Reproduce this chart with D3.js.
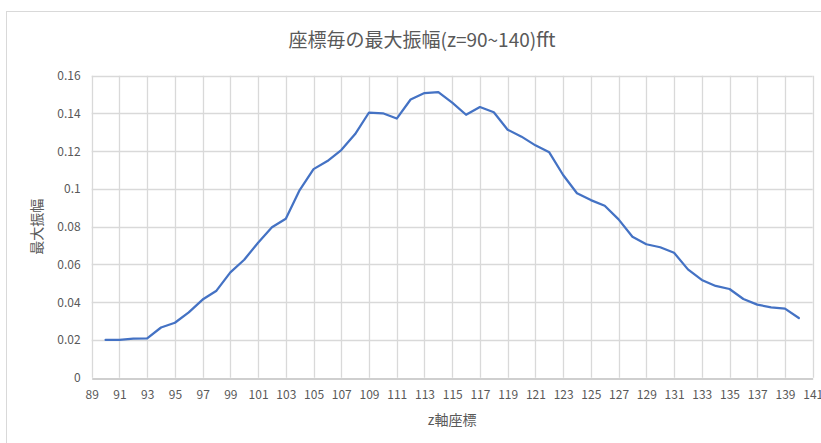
<!DOCTYPE html>
<html>
<head>
<meta charset="utf-8">
<script src="https://cdn.jsdelivr.net/npm/d3@7"></script>
<style>
  html, body { margin: 0; padding: 0; background: #fff; }
  svg { display: block; font-family: "Noto Sans CJK JP", "Noto Sans", sans-serif; }
</style>
</head>
<body>
<svg id="chart" width="821" height="443"></svg>
<script>
// z coordinate and maximum FFT amplitude per coordinate
const zValues = d3.range(90, 141);
const maxAmplitude = [
  0.0200, 0.0200, 0.0207, 0.0208, 0.0266, 0.0291, 0.0346, 0.0414, 0.0461, 0.0558,
  0.0625, 0.0715, 0.0797, 0.0842, 0.0994, 0.1105, 0.1148, 0.1206, 0.1291, 0.1405,
  0.1401, 0.1373, 0.1474, 0.1508, 0.1513, 0.1457, 0.1393, 0.1434, 0.1406, 0.1314,
  0.1277, 0.1231, 0.1194, 0.1074, 0.0977, 0.0941, 0.0911, 0.0839, 0.0747, 0.0707,
  0.0691, 0.0662, 0.0574, 0.0518, 0.0486, 0.0470, 0.0417, 0.0387, 0.0373, 0.0366,
  0.0316
];
const xTicks = d3.range(89, 142, 2);
const yTicks = [0, 0.02, 0.04, 0.06, 0.08, 0.1, 0.12, 0.14, 0.16];

const titleText = "座標毎の最大振幅(z=90~140)fft";
const xTitle = "z軸座標";
const yTitle = "最大振幅";

const svg = d3.select("#chart");
const margin = { left: 91.7, right: 812.7, top: 75.7, bottom: 377.7 };

const x = d3.scaleLinear().domain([89, 141]).range([margin.left, margin.right]);
const y = d3.scaleLinear().domain([0, 0.16]).range([margin.bottom, margin.top]);

const textColor = "#595959";

// chart area frame
svg.append("rect")
  .attr("x", 6.5).attr("y", 11.5)
  .attr("width", 840).attr("height", 460)
  .attr("fill", "none").attr("stroke", "#d9d9d9").attr("stroke-width", 1);

// title
svg.append("text")
  .attr("x", 422).attr("y", 47)
  .attr("text-anchor", "middle")
  .attr("font-size", 19)
  .attr("fill", textColor)
  .text(titleText);

// horizontal gridlines
svg.append("g")
  .selectAll("line")
  .data(yTicks.filter(d => d > 0))
  .join("line")
  .attr("x1", margin.left).attr("x2", margin.right)
  .attr("y1", d => Math.round(y(d)) + 0.5).attr("y2", d => Math.round(y(d)) + 0.5)
  .attr("stroke", "#d9d9d9").attr("stroke-width", 1.3);

// vertical gridlines
svg.append("g")
  .selectAll("line")
  .data(xTicks)
  .join("line")
  .attr("x1", d => Math.round(x(d)) + 0.5).attr("x2", d => Math.round(x(d)) + 0.5)
  .attr("y1", margin.top).attr("y2", margin.bottom)
  .attr("stroke", "#d9d9d9").attr("stroke-width", 1.3);

// x axis
const xAxis = svg.append("g")
  .attr("transform", `translate(0,${Math.round(y(0)) + 0.5})`)
  .call(d3.axisBottom(x).tickValues(xTicks).tickFormat(d3.format("d")).tickSize(0).tickPadding(12));
xAxis.select(".domain").attr("stroke", "#bfbfbf").attr("stroke-width", 1.3);
xAxis.selectAll("text").attr("fill", textColor).attr("font-size", 12)
  .attr("font-family", "'Noto Sans CJK JP', sans-serif");

// y axis labels
const yAxis = svg.append("g")
  .attr("transform", `translate(${margin.left},0)`)
  .call(d3.axisLeft(y).tickValues(yTicks).tickFormat(d => String(+d.toFixed(2))).tickSize(0).tickPadding(11));
yAxis.select(".domain").remove();
yAxis.selectAll("text").attr("fill", textColor).attr("font-size", 12)
  .attr("font-family", "'Noto Sans CJK JP', sans-serif");

// axis titles
svg.append("text")
  .attr("x", (margin.left + margin.right) / 2).attr("y", 425)
  .attr("text-anchor", "middle")
  .attr("font-size", 14)
  .attr("fill", textColor)
  .text(xTitle);

svg.append("text")
  .attr("transform", `translate(42,${(margin.top + margin.bottom) / 2}) rotate(-90)`)
  .attr("text-anchor", "middle")
  .attr("font-size", 14)
  .attr("fill", textColor)
  .text(yTitle);

// data line
const line = d3.line()
  .x((d, i) => x(zValues[i]))
  .y(d => y(d));

svg.append("path")
  .datum(maxAmplitude)
  .attr("d", line)
  .attr("fill", "none")
  .attr("stroke", "#4472C4")
  .attr("stroke-width", 2.25)
  .attr("stroke-linejoin", "round")
  .attr("stroke-linecap", "round");
</script>
</body>
</html>
